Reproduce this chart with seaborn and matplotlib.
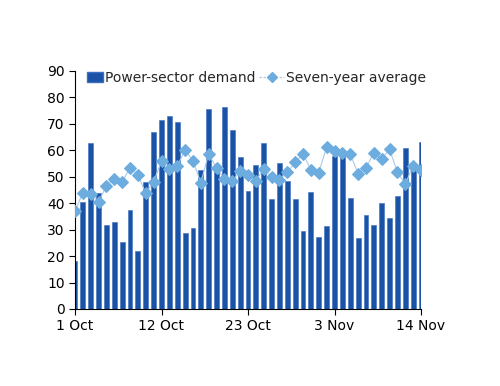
import matplotlib
matplotlib.use('Agg')
import matplotlib.pyplot as plt
import seaborn as sns
import numpy as np
import pandas as pd
from matplotlib.patches import Patch, Rectangle
from matplotlib.lines import Line2D
from matplotlib.legend_handler import HandlerPatch

# Daily values, 1 Oct to 14 Nov
power_demand = [18.0, 40.6, 62.6, 44.0, 31.8, 33.0, 25.3, 37.4, 22.1, 47.9,
                66.8, 71.6, 72.9, 70.6, 28.6, 30.7, 52.6, 75.5, 54.0, 76.2,
                67.6, 57.6, 44.6, 54.5, 62.8, 41.5, 55.2, 48.4, 41.6, 29.6,
                44.3, 27.2, 31.3, 58.0, 58.5, 41.9, 27.0, 35.4, 31.7, 40.2,
                34.3, 42.9, 61.0, 54.0, 63.2]
seven_year_avg = [37.0, 44.0, 43.3, 40.6, 46.6, 49.2, 47.9, 53.5, 50.7, 43.7,
                  48.2, 55.8, 53.0, 53.9, 60.2, 56.1, 47.8, 58.7, 53.3, 49.2,
                  48.5, 52.0, 50.6, 48.4, 53.0, 50.1, 48.9, 51.7, 55.4, 58.6,
                  52.7, 51.6, 61.2, 59.9, 58.9, 58.6, 51.2, 53.3, 59.1, 56.7,
                  60.4, 51.7, 47.2, 54.2, 52.7]
tick_labels = ['1 Oct', '12 Oct', '23 Oct', '3 Nov', '14 Nov']

bar_color = '#1a52a6'
avg_color = '#6cacdf'
line_color = '#a9cbec'

df = pd.DataFrame({'day': np.arange(len(power_demand)),
                   'demand': power_demand,
                   'avg': seven_year_avg})

sns.set_style('ticks')
plt.rcParams['font.family'] = ['DejaVu Sans']

fig = plt.figure(figsize=(5, 3.86), dpi=100)
ax = fig.add_axes([0.15, 0.1995, 0.692, 0.6166])

sns.barplot(data=df, x='day', y='demand', color=bar_color, width=0.62,
            native_scale=True, edgecolor='#3a6fc0', linewidth=0.4,
            saturation=1, ax=ax, zorder=2)
sns.lineplot(data=df, x='day', y='avg', color=line_color, linewidth=0.8,
             marker='D', markersize=6.5, markerfacecolor=avg_color,
             markeredgecolor=avg_color, ax=ax, zorder=3)

ax.set_xlim(0, 44)
ax.set_ylim(0, 90)
ax.set_yticks(range(0, 91, 10))
ax.set_xticks([0, 11, 22, 33, 44])
ax.set_xticklabels(tick_labels)
ax.set_xlabel('')
ax.set_ylabel('')
ax.tick_params(axis='both', labelsize=10, direction='out', length=4,
               width=0.8, colors='black')
for side in ['top', 'right']:
    ax.spines[side].set_visible(False)
for side in ['left', 'bottom']:
    ax.spines[side].set_color('black')
    ax.spines[side].set_linewidth(0.8)


# narrow square patch in the legend, right-aligned against its label
def small_box(legend, orig_handle, xdescent, ydescent, width, height, fontsize):
    w = 11
    return Rectangle((-xdescent + width - w, -ydescent), w, height)


handles = [Patch(facecolor=bar_color, edgecolor='#3a6fc0'),
           Line2D([0], [0], color=line_color, lw=0.9, ls=(0, (2, 1.2)),
                  marker='D', markersize=5, markerfacecolor=avg_color,
                  markeredgecolor=avg_color)]
fig.legend(handles, ['Power-sector demand', 'Seven-year average'],
           handler_map={Patch: HandlerPatch(patch_func=small_box)},
           loc='center left', bbox_to_anchor=(0.155, 1 - 78 / 386),
           ncol=2, frameon=False, fontsize=10, handlelength=1.8,
           handleheight=0.75, handletextpad=0.15, columnspacing=0.3,
           borderpad=0, borderaxespad=0)

fig.savefig('out.png', dpi=100)
